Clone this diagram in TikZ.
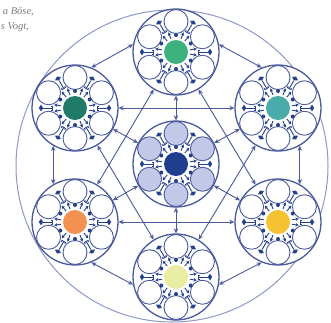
\documentclass[tikz,border=0pt]{standalone}
\usepackage{fontspec}
\setmainfont{Liberation Serif}
\usepackage{xcolor}
\usepackage{tikz}
\usetikzlibrary{
  arrows.meta, shapes.geometric, calc
}
\definecolor{ringblue}{HTML}{4A5A9C}
\definecolor{dotblue}{HTML}{25408C}
\definecolor{haloblue}{HTML}{8E99C6}
\definecolor{lavender}{HTML}{C2C8E7}
\definecolor{captiongray}{HTML}{7E7E7E}
\definecolor{corenavy}{HTML}{1F3F8E}
\definecolor{coregreen}{HTML}{3DB27C}
\definecolor{coreteal}{HTML}{1F7A68}
\definecolor{coreaqua}{HTML}{4BAAAA}
\definecolor{coreorange}{HTML}{F39150}
\definecolor{coreyellow}{HTML}{F5C331}
\definecolor{corelime}{HTML}{E8EDA2}
\tikzset{
  haloring/.style={
    circle, draw=haloblue, line width=1pt, inner sep=0pt
  },
  cellring/.style={
    circle, draw=ringblue, line width=1.3pt, fill=white,
    minimum size=86pt, inner sep=0pt
  },
  satcell/.style={
    circle, draw=ringblue, line width=0.9pt,
    minimum size=24pt, inner sep=0pt
  },
  corecell/.style={
    circle, minimum size=24pt, inner sep=0pt
  },
  innerdot/.style={
    circle, fill=dotblue, minimum size=4pt, inner sep=0pt
  },
  innerdiamond/.style={
    diamond, fill=dotblue, minimum width=4.5pt, minimum height=7pt,
    inner sep=0pt
  },
  spokeline/.style={
    draw=dotblue, line width=0.9pt
  },
  spokearrow/.style={
    -{Stealth[length=3.2pt,width=3.5pt]}, draw=dotblue, line width=0.9pt
  },
  linkarrow/.style={
    {Stealth[length=5pt,width=4.5pt]}-{Stealth[length=5pt,width=4.5pt]},
    draw=ringblue, line width=0.9pt
  },
  captionlabel/.style={
    font=\itshape\fontsize{10.5}{12}\selectfont, text=captiongray,
    inner sep=0pt, anchor=base east
  },
}

\begin{document}
\begin{tikzpicture}[x=1pt, y=-1pt]
  \fill[white] (0,0) rectangle (331,322);
  \useasboundingbox (0,0) rectangle (331,322);

  % ── Caption fragment ──
  \node[captionlabel] (authA) at (34,14.5) {a Böse,};
  \node[captionlabel] (authB) at (29,29.5) {s Vogt,};

  % ── Outer halo ──
  \node[haloring, minimum size=312pt] (halo) at (172,166) {};

  % ── Clusters ──
  \foreach \nm/\cx/\cy/\fillc/\satc in {
      hub/176/164/corenavy/lavender, top/176/52/coregreen/white,
      tl/75/108/coreteal/white, tr/278/108/coreaqua/white,
      bl/75/222/coreorange/white, br/278/222/coreyellow/white,
      bot/176/277/corelime/white} {
    \node[cellring] (\nm) at (\cx,\cy) {};
    \node[corecell, fill=\fillc] (\nm-core) at (\cx,\cy) {};
    \foreach \a [count=\k] in {30,90,...,330} {
      \node[satcell, fill=\satc] (\nm-s\k) at ($(\nm)+(\a:30.5)$) {};
      \node[innerdot] (\nm-d\k) at ($(\nm)+(\a:17)$) {};
      \draw[spokearrow] ($(\nm)+(\a+21:14)$) -- ($(\nm)+(\a+21:21)$);
      \draw[spokearrow] ($(\nm)+(\a-21:14)$) -- ($(\nm)+(\a-21:21)$);
    }
    \foreach \a [count=\k] in {0,60,...,300} {
      \node[innerdiamond, rotate=-\a] (\nm-m\k) at ($(\nm)+(\a:34)$) {};
      \draw[spokeline, {Bracket[width=5pt,length=1.5pt]}-]
        ($(\nm)+(\a:22)$) -- (\nm-m\k);
    }
  }

  % ── Hub links ──
  \foreach \nm in {top, tl, tr, bl, br, bot}
    \draw[linkarrow] (hub) -- (\nm);

  % ── Star links ──
  \draw[linkarrow] (top) -- (bl);
  \draw[linkarrow] (top) -- (br);
  \draw[linkarrow] (bl) -- (br);
  \draw[linkarrow] (tl) -- (tr);
  \draw[linkarrow] (tl) -- (bot);
  \draw[linkarrow] (tr) -- (bot);

  % ── Rim links ──
  \draw[linkarrow] (tl.68) -- (top.170);
  \draw[linkarrow] (tr.112) -- (top.10);
  \draw[linkarrow] (tl.240) -- (bl.120);
  \draw[linkarrow] (tr.300) -- (br.60);
  \draw[linkarrow] (bl.292) -- (bot.190);
  \draw[linkarrow] (br.248) -- (bot.350);
\end{tikzpicture}
\end{document}
